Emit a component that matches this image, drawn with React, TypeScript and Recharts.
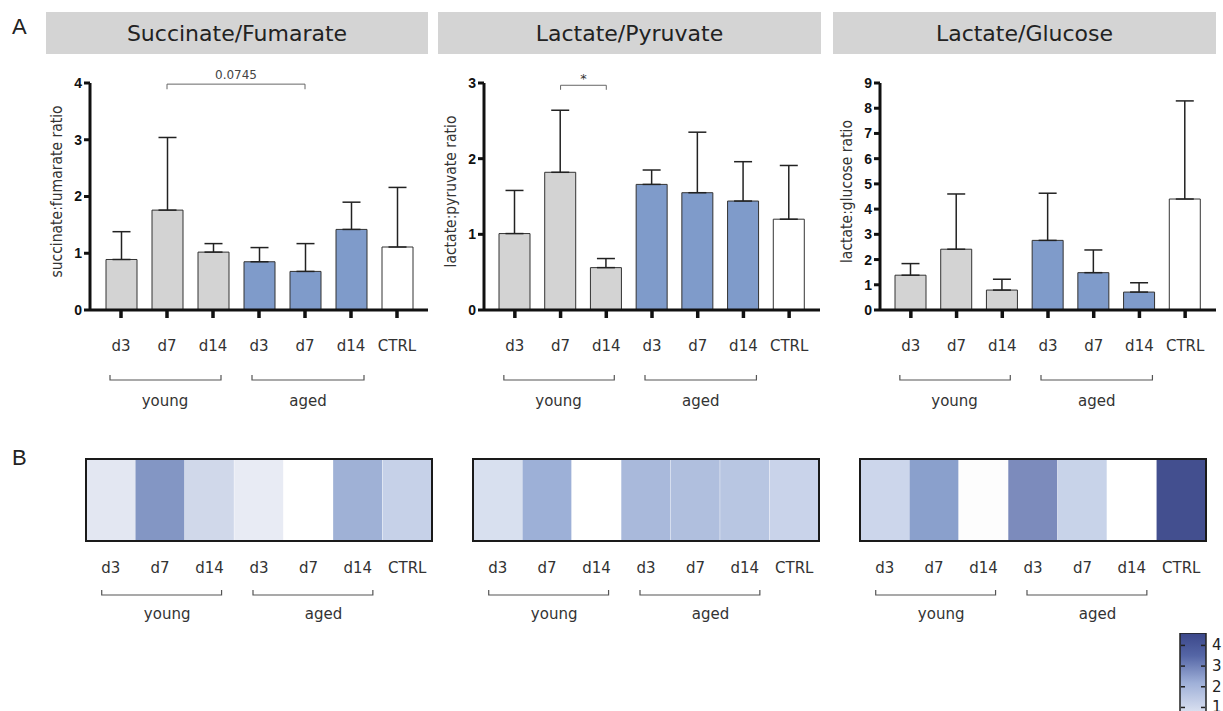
import React from 'react';
import { BarChart, Bar, XAxis, YAxis, ErrorBar, Cell, ReferenceLine } from 'recharts';

// ---------- data ----------
const categories = ['d3', 'd7', 'd14', 'd3', 'd7', 'd14', 'CTRL'];
const groups = ['young', 'young', 'young', 'aged', 'aged', 'aged', 'ctrl'];

const succFumMean = [0.89, 1.76, 1.02, 0.85, 0.68, 1.42, 1.11];
const succFumErr = [0.49, 1.28, 0.15, 0.25, 0.49, 0.48, 1.05];
const lacPyrMean = [1.01, 1.82, 0.56, 1.66, 1.55, 1.44, 1.2];
const lacPyrErr = [0.57, 0.82, 0.12, 0.19, 0.8, 0.52, 0.71];
const lacGluMean = [1.38, 2.41, 0.79, 2.76, 1.48, 0.71, 4.4];
const lacGluErr = [0.46, 2.19, 0.43, 1.87, 0.9, 0.37, 3.89];

const yTicksSF = [0, 1, 2, 3, 4];
const yTicksLP = [0, 1, 2, 3];
const yTicksLG = [0, 1, 2, 3, 4, 5, 6, 7, 8, 9];

const titles = ['Succinate/Fumarate', 'Lactate/Pyruvate', 'Lactate/Glucose'];
const yLabels = ['succinate:fumarate ratio', 'lactate:pyruvate ratio', 'lactate:glucose ratio'];

// heatmap colours (one per cell)
const heatColorsSF = ['#e3e7f2', '#8396c4', '#d0d8ea', '#e8ebf4', '#ffffff', '#9fb1d6', '#c6d1e8'];
const heatColorsLP = ['#d8e0ef', '#9db0d7', '#ffffff', '#a9b9db', '#b0bfde', '#b8c6e2', '#c9d3ea'];
const heatColorsLG = ['#ccd6eb', '#8aa0cc', '#fdfdfd', '#7c8bbc', '#c8d3e9', '#ffffff', '#434f8f'];

const colorbarTicks = [1, 2, 3, 4];
const colorbarDomain = [0.2, 4.6];

// ---------- styles ----------
const FONT = '"DejaVu Sans", Verdana, sans-serif';
const LABEL_FONT = '"DejaVu Sans Condensed", "DejaVu Sans", sans-serif';
const groupFill: Record<string, string> = { young: '#d3d3d3', aged: '#7f9bca', ctrl: '#ffffff' };

const buildRows = (mean: number[], err: number[]) =>
  categories.map((c, i) => ({
    key: `${groups[i]}-${c}`,
    mean: mean[i],
    err: [0, err[i]],
  }));

const buildHeatRows = (vals: number[]) =>
  categories.map((c, i) => ({ key: `${groups[i]}-${c}`, value: vals[i], full: 1 }));

type TickCfg = {
  band: number;
  labelDy: number;
  brDy: number;
  grpDy: number;
  young: [number, number, number];
  aged: [number, number, number];
};

const makeCatTick = (cfg: TickCfg) => (props: any) => {
  const { x, y, index } = props;
  const cat = categories[index];
  const els: any[] = [
    <text key="t" x={x} y={y + cfg.labelDy} textAnchor="middle" fontSize={15} fontFamily={FONT} fill="#333">
      {cat}
    </text>,
  ];
  if (index === 1 || index === 4) {
    const o = index === 1 ? cfg.young : cfg.aged;
    const l = x - cfg.band + o[0];
    const r = x + cfg.band + o[1];
    const by = y + cfg.brDy;
    els.push(
      <path key="b" d={`M${l},${by - 5}V${by}H${r}V${by - 5}`} fill="none" stroke="#555" strokeWidth={1.2} />
    );
    els.push(
      <text key="g" x={x + o[2]} y={y + cfg.grpDy} textAnchor="middle" fontSize={15} fontFamily={FONT} fill="#333">
        {groups[index]}
      </text>
    );
  }
  return <g>{els}</g>;
};

type PanelProps = {
  axisX: number;
  right: number;
  mean: number[];
  err: number[];
  ticks: number[];
  yLabel: string;
  children?: any;
};

const PLOT_TOP = 83;
const PLOT_BOTTOM = 310;
const CH_H = 420;
const PAD = 8;

function BarPanel({ axisX, right, mean, err, ticks, yLabel, children }: PanelProps) {
  const left = axisX - 70;
  const width = right - left + 5;
  const plotW = right - axisX;
  const band = (plotW - 2 * PAD) / categories.length;
  const rows = buildRows(mean, err);
  const tick = makeCatTick({ band, labelDy: 33, brDy: 62, grpDy: 88, young: [-11, 8, -2], aged: [-7, 13, 3] });
  return (
    <div style={{ position: 'absolute', left, top: 0 }}>
      <BarChart width={width} height={CH_H} data={rows} margin={{ top: PLOT_TOP, right: 5, bottom: 0, left: 20 }}>
        <XAxis
          dataKey="key"
          height={CH_H - PLOT_BOTTOM}
          interval={0}
          padding={{ left: PAD, right: PAD }}
          tickSize={8}
          tickMargin={0}
          axisLine={{ stroke: '#111', strokeWidth: 3 }}
          tickLine={{ stroke: '#111', strokeWidth: 3.5 }}
          tick={tick}
        />
        <YAxis
          width={50}
          domain={[ticks[0], ticks[ticks.length - 1]]}
          ticks={ticks}
          interval={0}
          tickSize={6}
          tickMargin={2}
          axisLine={{ stroke: '#111', strokeWidth: 3 }}
          tickLine={{ stroke: '#111', strokeWidth: 3 }}
          tick={{ fontSize: 14, fontWeight: 'bold', fill: '#111', fontFamily: '"Liberation Sans", Arial, sans-serif' }}
          label={{
            value: yLabel,
            angle: -90,
            position: 'insideLeft',
            offset: 16,
            dy: -5,
            style: { textAnchor: 'middle', fontSize: 15.5, fontFamily: LABEL_FONT, fill: '#333' },
          }}
        />
        <Bar dataKey="mean" barSize={31} stroke="#333" strokeWidth={1} isAnimationActive={false}>
          {rows.map((r, i) => (
            <Cell key={r.key} fill={groupFill[groups[i]]} />
          ))}
          <ErrorBar dataKey="err" width={9} stroke="#222" strokeWidth={1.5} direction="y" />
        </Bar>
        {children}
      </BarChart>
    </div>
  );
}

type HeatProps = { left: number; vals: number[]; colors: string[] };
const HM_TOP = 459;
const HM_H = 82;
const HM_W = 346;

function HeatPanel({ left, vals, colors }: HeatProps) {
  const rows = buildHeatRows(vals);
  const band = HM_W / categories.length;
  const tick = makeCatTick({ band, labelDy: 32, brDy: 54, grpDy: 78, young: [-9, 12, 7], aged: [-6, 15, 15] });
  return (
    <div style={{ position: 'absolute', left, top: HM_TOP }}>
      <BarChart width={HM_W} height={HM_H + 100} data={rows} margin={{ top: 0, right: 0, bottom: 0, left: 0 }} barCategoryGap={0}>
        <XAxis dataKey="key" height={100} interval={0} axisLine={false} tickLine={false} tickSize={0} tickMargin={0} tick={tick} />
        <YAxis hide domain={[0, 1]} />
        <Bar dataKey="full" isAnimationActive={false}>
          {rows.map((r, i) => (
            <Cell key={r.key} fill={colors[i]} />
          ))}
        </Bar>
      </BarChart>
      <div
        style={{
          position: 'absolute',
          left: -1,
          top: -1,
          width: HM_W - 2,
          height: HM_H - 2,
          border: '2px solid #1a1a1a',
          pointerEvents: 'none',
        }}
      />
    </div>
  );
}

const colorbarRows = [{ key: 'scale', full: colorbarDomain[1] }];

const ColorbarTick = (props: any) => {
  const { x, y, payload } = props;
  return (
    <g>
      <line x1={x - 25} x2={x - 21} y1={y} y2={y} stroke="#222" strokeWidth={1.5} />
      <line x1={x - 5} x2={x - 1} y1={y} y2={y} stroke="#222" strokeWidth={1.5} />
      <text x={x + 6} y={y + 5} fontSize={15} fontFamily={FONT} fill="#222">
        {payload.value}
      </text>
    </g>
  );
};

function Colorbar() {
  return (
    <div style={{ position: 'absolute', left: 1170, top: 620 }}>
      <BarChart width={80} height={13 + 91} data={colorbarRows} margin={{ top: 13, right: 24, bottom: 0, left: 10 }} barCategoryGap={0}>
        <defs>
          <linearGradient id="cbGrad" x1="0" y1="0" x2="0" y2="1">
            <stop offset="0%" stopColor="#3b478a" />
            <stop offset="25%" stopColor="#5566a6" />
            <stop offset="55%" stopColor="#9fb0d8" />
            <stop offset="100%" stopColor="#f2f4fa" />
          </linearGradient>
        </defs>
        <XAxis dataKey="key" hide />
        <YAxis
          orientation="right"
          width={20}
          domain={colorbarDomain}
          ticks={colorbarTicks}
          interval={0}
          allowDataOverflow
          axisLine={false}
          tickLine={false}
          tickSize={0}
          tickMargin={0}
          tick={<ColorbarTick />}
        />
        <Bar dataKey="full" fill="url(#cbGrad)" stroke="#222" strokeWidth={1.5} isAnimationActive={false} />
      </BarChart>
    </div>
  );
}

const headers = [
  { l: 46, r: 428 },
  { l: 438, r: 821 },
  { l: 833, r: 1216 },
];

export default function App() {
  return (
    <div
      style={{
        position: 'absolute',
        left: 0,
        top: 0,
        width: 1223,
        height: 711,
        background: '#fff',
        overflow: 'hidden',
        fontFamily: FONT,
      }}
    >
      <div style={{ position: 'absolute', left: 12, top: 14, fontSize: 22, fontFamily: '"Liberation Sans", Arial, sans-serif', color: '#222' }}>A</div>
      <div style={{ position: 'absolute', left: 12, top: 445, fontSize: 22, fontFamily: '"Liberation Sans", Arial, sans-serif', color: '#222' }}>B</div>
      {headers.map((h, i) => (
        <div
          key={titles[i]}
          style={{
            position: 'absolute',
            left: h.l,
            top: 12,
            width: h.r - h.l,
            height: 42,
            background: '#d4d4d4',
            display: 'flex',
            alignItems: 'center',
            justifyContent: 'center',
            fontSize: 22,
            color: '#222',
          }}
        >
          {titles[i]}
        </div>
      ))}

      <BarPanel axisX={90} right={428} mean={succFumMean} err={succFumErr} ticks={yTicksSF} yLabel={yLabels[0]}>
        <ReferenceLine
          segment={[{ x: 'young-d7', y: 3.98 }, { x: 'aged-d7', y: 3.98 }]}
          stroke="#666"
          strokeWidth={1}
          ifOverflow="visible"
          label={{ value: '0.0745', position: 'top', offset: 5, fontSize: 12, fill: '#444', fontFamily: FONT }}
        />
        <ReferenceLine segment={[{ x: 'young-d7', y: 3.98 }, { x: 'young-d7', y: 3.89 }]} stroke="#666" strokeWidth={1} ifOverflow="visible" />
        <ReferenceLine segment={[{ x: 'aged-d7', y: 3.98 }, { x: 'aged-d7', y: 3.89 }]} stroke="#666" strokeWidth={1} ifOverflow="visible" />
      </BarPanel>

      <BarPanel axisX={484} right={820} mean={lacPyrMean} err={lacPyrErr} ticks={yTicksLP} yLabel={yLabels[1]}>
        <ReferenceLine
          segment={[{ x: 'young-d7', y: 2.97 }, { x: 'young-d14', y: 2.97 }]}
          stroke="#666"
          strokeWidth={1}
          ifOverflow="visible"
          label={{ value: '*', position: 'top', offset: 2, fontSize: 13, fill: '#333', fontFamily: FONT }}
        />
        <ReferenceLine segment={[{ x: 'young-d7', y: 2.97 }, { x: 'young-d7', y: 2.91 }]} stroke="#666" strokeWidth={1} ifOverflow="visible" />
        <ReferenceLine segment={[{ x: 'young-d14', y: 2.97 }, { x: 'young-d14', y: 2.91 }]} stroke="#666" strokeWidth={1} ifOverflow="visible" />
      </BarPanel>

      <BarPanel axisX={880} right={1216} mean={lacGluMean} err={lacGluErr} ticks={yTicksLG} yLabel={yLabels[2]} />

      <HeatPanel left={86} vals={succFumMean} colors={heatColorsSF} />
      <HeatPanel left={473} vals={lacPyrMean} colors={heatColorsLP} />
      <HeatPanel left={860} vals={lacGluMean} colors={heatColorsLG} />

      <Colorbar />
    </div>
  );
}
